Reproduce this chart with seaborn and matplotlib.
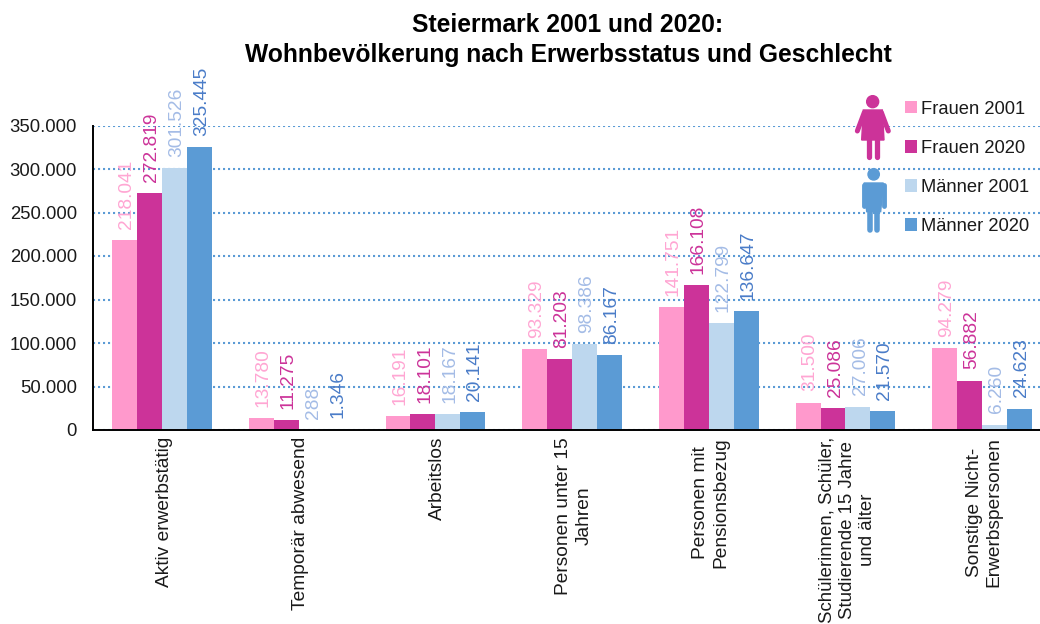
"""Steiermark 2001/2020: Wohnbevoelkerung nach Erwerbsstatus und Geschlecht."""

import matplotlib
matplotlib.use('Agg')
import matplotlib.pyplot as plt
import pandas as pd
import seaborn as sns
from matplotlib.lines import Line2D
from matplotlib.patches import Circle, Polygon
from matplotlib.ticker import FuncFormatter
from matplotlib.transforms import Affine2D, ScaledTranslation

categories = [
    'Aktiv erwerbstätig',
    'Temporär abwesend',
    'Arbeitslos',
    'Personen unter 15\nJahren',
    'Personen mit\nPensionsbezug',
    'Schülerinnen, Schüler,\nStudierende 15 Jahre\nund älter',
    'Sonstige Nicht-\nErwerbspersonen',
]
frauen_2001 = [218041, 13780, 16191, 93329, 141751, 31500, 94279]
frauen_2020 = [272819, 11275, 18101, 81203, 166108, 25086, 56882]
maenner_2001 = [301526, 288, 18167, 98386, 122799, 27006, 6260]
maenner_2020 = [325445, 1346, 20141, 86167, 136647, 21570, 24623]
series_names = ['Frauen 2001', 'Frauen 2020', 'Männer 2001', 'Männer 2020']
y_ticks = [0, 50000, 100000, 150000, 200000, 250000, 300000, 350000]

bar_colors = ['#FF99CC', '#CC3399', '#BDD7EE', '#5B9BD5']
label_colors = ['#FFA6D3', '#CC3399', '#A4BCE6', '#4A7CC8']
GRID_BLUE = '#5B9BD5'

sns.set_style('white')
plt.rcParams['font.family'] = ['Liberation Sans', 'DejaVu Sans']

df = pd.DataFrame({
    'kategorie': categories * 4,
    'reihe': [n for n in series_names for _ in categories],
    'wert': frauen_2001 + frauen_2020 + maenner_2001 + maenner_2020,
})

fig = plt.figure(figsize=(10.4, 6.24), dpi=100)
ax = fig.add_axes([93 / 1040, 194 / 624, 947 / 1040, 304.5 / 624])

sns.barplot(data=df, x='kategorie', y='wert', hue='reihe', hue_order=series_names,
            palette=bar_colors, width=0.73, gap=0, saturation=1, linewidth=0,
            errorbar=None, ax=ax, zorder=2)

# Values above the bars, in the colour of their series
for container, color in zip(ax.containers, label_colors):
    texts = ax.bar_label(container, labels=[f'{v:,.0f}'.replace(',', '.') for v in container.datavalues],
                         rotation=90, color=color, fontsize=13.8, padding=8, zorder=3)
    for t in texts:
        t.xyann = (1.5, t.xyann[1])

ax.set_ylim(0, 350000)
ax.set_xlim(-0.505, 6.423)
ax.set_yticks(y_ticks)
ax.yaxis.set_major_formatter(FuncFormatter(lambda v, _: f'{v:,.0f}'.replace(',', '.')))
ax.tick_params(axis='y', labelsize=13.3, length=0, pad=11.5, labelcolor='#1a1a1a')
ax.tick_params(axis='x', labelsize=13.8, length=0, pad=5, labelcolor='#1a1a1a')
ax.set_xticks(range(len(categories)))
ax.set_xticklabels(categories, rotation=90, ha='center', va='top', ma='center', linespacing=1.25)
shift = ScaledTranslation(2 / 100, 0, fig.dpi_scale_trans)
for lab in ax.get_xticklabels():
    lab.set_transform(lab.get_transform() + shift)
# longest label would run off the bottom edge at full size
ax.get_xticklabels()[5].set_fontsize(13.4)
ax.set_xlabel('')
ax.set_ylabel('')

ax.grid(axis='y', linestyle=(0, (1, 1.4)), linewidth=1.5, color=GRID_BLUE, zorder=1)
ax.set_axisbelow(True)
for side in ['top', 'right']:
    ax.spines[side].set_visible(False)
for side in ['left', 'bottom']:
    ax.spines[side].set_color('black')
    ax.spines[side].set_linewidth(1.4)

# Legend sits in the upper right, next to the two figures
handles, labels = ax.get_legend_handles_labels()
ax.legend(handles, labels, loc='upper left', bbox_to_anchor=(0.8473, 1.112), frameon=False,
          fontsize=13.2, handlelength=0.68, handleheight=0.68, handletextpad=0.2,
          labelspacing=1.21, borderpad=0, labelcolor='#1a1a1a')

fig.text(568 / 1040, 1 - 25 / 624, 'Steiermark 2001 und 2020:', ha='center', va='center',
         fontsize=17.7, fontweight='bold', color='black')
fig.text(568 / 1040, 1 - 55 / 624, 'Wohnbevölkerung nach Erwerbsstatus und Geschlecht',
         ha='center', va='center', fontsize=17.7, fontweight='bold', color='black')

# Pictograms, sketched in the 3x crop grid of the legend corner
icon_tf = Affine2D().scale(1 / 3, -1 / 3).translate(840, 624 - 80)
PINK = '#CC3399'
BLUE = '#5B9BD5'


def limb(points, color, width):
    fig.add_artist(Line2D(*zip(*points), color=color, linewidth=width, transform=icon_tf,
                          solid_capstyle='round', solid_joinstyle='round'))


fig.add_artist(Circle((98, 65), 18, color=PINK, transform=icon_tf))
fig.add_artist(Polygon([(70, 90), (127, 90), (132, 180), (65, 180)], color=PINK, transform=icon_tf))
limb([(73, 97), (52, 153)], PINK, 3.6)
limb([(124, 97), (145, 153)], PINK, 3.6)
limb([(87, 175), (87, 230)], PINK, 3.8)
limb([(111, 175), (111, 230)], PINK, 3.8)

fig.add_artist(Circle((101, 283), 17, color=BLUE, transform=icon_tf))
fig.add_artist(Polygon([(72, 309), (130, 309), (122, 395), (80, 395)], color=BLUE, transform=icon_tf))
limb([(71, 316), (71, 378)], BLUE, 3.5)
limb([(131, 316), (131, 378)], BLUE, 3.5)
limb([(90, 385), (90, 450)], BLUE, 4.0)
limb([(112, 385), (112, 450)], BLUE, 4.0)

fig.savefig('out.png', dpi=100)
